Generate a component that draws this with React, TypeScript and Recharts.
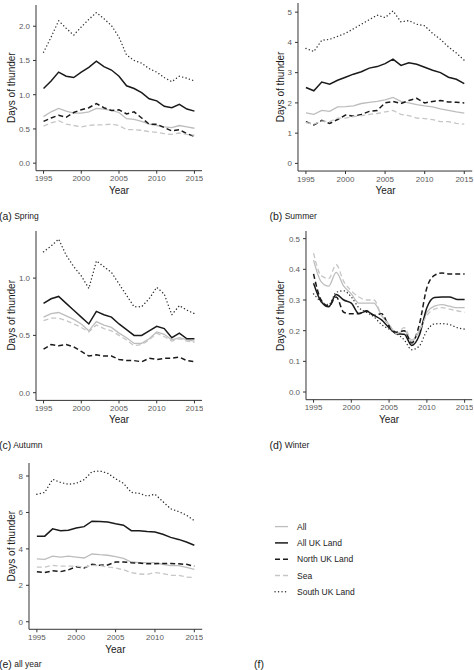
import React from 'react';
import { LineChart, Line, XAxis, YAxis } from 'recharts';

const YEARS = [1995, 1996, 1997, 1998, 1999, 2000, 2001, 2002, 2003, 2004, 2005, 2006, 2007, 2008, 2009, 2010, 2011, 2012, 2013, 2014, 2015];
const X_TICKS = [1995, 2000, 2005, 2010, 2015];

// Spring
const springAll = [0.68, 0.75, 0.80, 0.76, 0.73, 0.73, 0.75, 0.80, 0.79, 0.77, 0.74, 0.65, 0.64, 0.61, 0.57, 0.55, 0.53, 0.52, 0.55, 0.53, 0.51];
const springLand = [1.09, 1.20, 1.33, 1.27, 1.25, 1.33, 1.40, 1.49, 1.41, 1.36, 1.27, 1.13, 1.09, 1.03, 0.94, 0.91, 0.83, 0.81, 0.86, 0.79, 0.76];
const springNorth = [0.61, 0.66, 0.70, 0.67, 0.74, 0.78, 0.81, 0.87, 0.81, 0.77, 0.78, 0.72, 0.75, 0.66, 0.57, 0.57, 0.52, 0.47, 0.49, 0.43, 0.39];
const springSea = [0.54, 0.59, 0.62, 0.57, 0.55, 0.53, 0.55, 0.56, 0.56, 0.57, 0.55, 0.49, 0.49, 0.48, 0.46, 0.45, 0.43, 0.42, 0.44, 0.42, 0.41];
const springSouth = [1.62, 1.84, 2.08, 1.97, 1.87, 1.99, 2.10, 2.20, 2.11, 2.01, 1.84, 1.58, 1.50, 1.46, 1.38, 1.33, 1.25, 1.19, 1.27, 1.24, 1.20];

// Summer
const summerAll = [1.67, 1.62, 1.75, 1.72, 1.87, 1.88, 1.90, 1.98, 2.02, 2.05, 2.10, 2.18, 2.05, 2.00, 1.94, 1.90, 1.87, 1.80, 1.75, 1.70, 1.66];
const summerLand = [2.51, 2.40, 2.69, 2.62, 2.75, 2.85, 2.95, 3.03, 3.15, 3.20, 3.30, 3.45, 3.24, 3.33, 3.28, 3.18, 3.08, 3.00, 2.85, 2.78, 2.64];
const summerNorth = [1.38, 1.27, 1.42, 1.32, 1.45, 1.60, 1.56, 1.62, 1.72, 1.75, 2.00, 2.05, 1.98, 2.08, 2.15, 2.00, 2.05, 2.08, 2.03, 2.02, 2.00];
const summerSea = [1.35, 1.30, 1.40, 1.38, 1.50, 1.50, 1.55, 1.58, 1.62, 1.65, 1.70, 1.75, 1.62, 1.58, 1.50, 1.48, 1.45, 1.38, 1.38, 1.32, 1.30];
const summerSouth = [3.80, 3.70, 4.07, 4.10, 4.20, 4.30, 4.45, 4.60, 4.75, 4.90, 4.82, 5.04, 4.68, 4.72, 4.60, 4.55, 4.30, 4.10, 3.85, 3.65, 3.41];

// Autumn
const autumnAll = [0.66, 0.69, 0.70, 0.67, 0.64, 0.60, 0.54, 0.62, 0.59, 0.57, 0.52, 0.48, 0.43, 0.43, 0.47, 0.53, 0.51, 0.46, 0.48, 0.46, 0.45];
const autumnLand = [0.78, 0.82, 0.84, 0.78, 0.72, 0.66, 0.60, 0.71, 0.68, 0.66, 0.60, 0.55, 0.50, 0.50, 0.54, 0.58, 0.56, 0.48, 0.52, 0.47, 0.47];
const autumnNorth = [0.38, 0.42, 0.41, 0.42, 0.40, 0.36, 0.32, 0.33, 0.32, 0.32, 0.29, 0.28, 0.28, 0.27, 0.30, 0.29, 0.30, 0.30, 0.31, 0.28, 0.27];
const autumnSea = [0.63, 0.65, 0.65, 0.63, 0.60, 0.57, 0.53, 0.59, 0.56, 0.54, 0.50, 0.46, 0.41, 0.42, 0.46, 0.52, 0.49, 0.45, 0.47, 0.45, 0.44];
const autumnSouth = [1.23, 1.28, 1.34, 1.20, 1.10, 1.02, 0.91, 1.15, 1.10, 1.05, 0.95, 0.85, 0.75, 0.75, 0.82, 0.92, 0.86, 0.68, 0.76, 0.72, 0.69];

// Winter
const winterAll = [0.430, 0.360, 0.345, 0.390, 0.345, 0.320, 0.290, 0.290, 0.290, 0.250, 0.220, 0.190, 0.200, 0.165, 0.200, 0.260, 0.280, 0.285, 0.280, 0.275, 0.275];
const winterLand = [0.355, 0.295, 0.278, 0.318, 0.300, 0.290, 0.256, 0.263, 0.250, 0.235, 0.210, 0.190, 0.188, 0.152, 0.185, 0.275, 0.308, 0.310, 0.310, 0.302, 0.302];
const winterNorth = [0.385, 0.300, 0.280, 0.310, 0.260, 0.255, 0.255, 0.265, 0.250, 0.255, 0.215, 0.195, 0.200, 0.160, 0.220, 0.340, 0.380, 0.388, 0.385, 0.385, 0.385];
const winterSea = [0.453, 0.380, 0.370, 0.415, 0.360, 0.330, 0.310, 0.300, 0.300, 0.250, 0.220, 0.190, 0.210, 0.170, 0.200, 0.250, 0.270, 0.275, 0.270, 0.265, 0.260];
const winterSouth = [0.320, 0.295, 0.285, 0.325, 0.330, 0.310, 0.275, 0.260, 0.245, 0.220, 0.205, 0.190, 0.170, 0.138, 0.150, 0.200, 0.222, 0.223, 0.220, 0.210, 0.205];

// All year
const yearAll = [3.45, 3.42, 3.60, 3.55, 3.60, 3.55, 3.50, 3.72, 3.68, 3.65, 3.58, 3.48, 3.28, 3.25, 3.25, 3.25, 3.15, 3.08, 3.08, 2.98, 2.88];
const yearLand = [4.70, 4.70, 5.10, 5.00, 5.02, 5.15, 5.22, 5.52, 5.50, 5.47, 5.38, 5.30, 5.00, 5.00, 4.95, 4.93, 4.80, 4.63, 4.52, 4.38, 4.20];
const yearNorth = [2.75, 2.70, 2.80, 2.75, 2.85, 3.02, 2.95, 3.15, 3.10, 3.12, 3.28, 3.28, 3.24, 3.22, 3.18, 3.18, 3.20, 3.20, 3.18, 3.15, 3.05];
const yearSea = [3.00, 3.00, 3.10, 3.05, 3.05, 3.05, 3.00, 3.10, 3.08, 3.00, 2.95, 2.85, 2.70, 2.62, 2.60, 2.70, 2.65, 2.55, 2.55, 2.45, 2.42];
const yearSouth = [7.00, 7.10, 7.82, 7.65, 7.55, 7.60, 7.80, 8.24, 8.28, 8.15, 7.85, 7.60, 7.10, 7.05, 6.90, 7.00, 6.60, 6.20, 6.05, 5.85, 5.55];

const SERIES_NAMES = ['All', 'All UK Land', 'North UK Land', 'Sea', 'South UK Land'];

const SERIES = [
  { key: 'all', name: SERIES_NAMES[0], color: '#bdbdbd', width: 1.3, dash: undefined as string | undefined, cap: 'butt' },
  { key: 'land', name: SERIES_NAMES[1], color: '#1a1a1a', width: 1.5, dash: undefined as string | undefined, cap: 'butt' },
  { key: 'north', name: SERIES_NAMES[2], color: '#1a1a1a', width: 1.5, dash: '5 3', cap: 'butt' },
  { key: 'sea', name: SERIES_NAMES[3], color: '#c6c6c6', width: 1.3, dash: '5 3', cap: 'butt' },
  { key: 'south', name: SERIES_NAMES[4], color: '#333333', width: 1.4, dash: '0.1 3.4', cap: 'round' },
];

function table(all: number[], land: number[], north: number[], sea: number[], south: number[]) {
  return YEARS.map((year, i) => ({ year, all: all[i], land: land[i], north: north[i], sea: sea[i], south: south[i] }));
}

const FONT = '"Liberation Sans", Arial, Helvetica, sans-serif';

const PANELS = [
  { id: 'a', label: '(a)', title: 'Spring', data: table(springAll, springLand, springNorth, springSea, springSouth),
    left: 36, right: 202, top: 4.8, bottom: 170.5, domain: [-0.11, 2.31], ticks: [0, 0.5, 1, 1.5, 2], digits: 1,
    ytitleX: 11, yearY: 190, labelX: -1, labelY: 216, curve: 'linear' },
  { id: 'b', label: '(b)', title: 'Summer', data: table(summerAll, summerLand, summerNorth, summerSea, summerSouth),
    left: 298.4, right: 472.6, top: 2.85, bottom: 170.9, domain: [-0.2525, 5.3025], ticks: [0, 1, 2, 3, 4, 5], digits: 0,
    ytitleX: 280, yearY: 190, labelX: 269.5, labelY: 216, curve: 'linear' },
  { id: 'c', label: '(c)', title: 'Autumn', data: table(autumnAll, autumnLand, autumnNorth, autumnSea, autumnSouth),
    left: 36, right: 202, top: 230.6, bottom: 400, domain: [-0.0672, 1.4112], ticks: [0, 0.5, 1], digits: 1,
    ytitleX: 11, yearY: 419, labelX: -1, labelY: 445, curve: 'linear' },
  { id: 'd', label: '(d)', title: 'Winter', data: table(winterAll, winterLand, winterNorth, winterSea, winterSouth),
    left: 306, right: 472.2, top: 231.3, bottom: 400, domain: [-0.025, 0.525], ticks: [0, 0.1, 0.2, 0.3, 0.4, 0.5], digits: 1,
    ytitleX: 280, yearY: 419, labelX: 269.5, labelY: 445, curve: 'monotone' },
  { id: 'e', label: '(e)', title: 'all year', data: table(yearAll, yearLand, yearNorth, yearSea, yearSouth),
    left: 28.8, right: 202, top: 463, bottom: 629.3, domain: [-0.415, 8.715], ticks: [0, 2, 4, 6, 8], digits: 0,
    ytitleX: 11, yearY: 649, labelX: -1, labelY: 664, curve: 'linear' },
];

const YW = 30;
const MT = 3;
const MR = 1;
const XH = 22;

function Panel({ p }: { p: any }) {
  const plotW = p.right - p.left;
  const plotH = p.bottom - p.top;
  return (
    <div style={{ position: 'absolute', left: p.left - YW, top: p.top - MT }}>
      <LineChart
        width={YW + plotW + MR}
        height={MT + plotH + XH}
        data={p.data}
        margin={{ top: MT, right: MR, bottom: 0, left: 0 }}
      >
        <XAxis
          dataKey="year"
          type="number"
          domain={[1994, 2016]}
          ticks={X_TICKS}
          interval={0}
          allowDataOverflow
          height={XH}
          stroke="#333333"
          tickSize={3}
          tickMargin={2}
          tick={{ fontSize: 8, fill: '#5a5a5a', fontFamily: FONT }}
        />
        <YAxis
          type="number"
          domain={p.domain}
          ticks={p.ticks}
          interval={0}
          allowDataOverflow
          width={YW}
          stroke="#333333"
          tickSize={3}
          tickMargin={3}
          tickFormatter={(v: number) => v.toFixed(p.digits)}
          tick={{ fontSize: 8, fill: '#5a5a5a', fontFamily: FONT }}
        />
        {SERIES.map((s) => (
          <Line
            key={s.key}
            dataKey={s.key}
            name={s.name}
            type={p.curve}
            stroke={s.color}
            strokeWidth={s.width}
            strokeDasharray={s.dash}
            strokeLinecap={s.cap as any}
            dot={false}
            activeDot={false}
            isAnimationActive={false}
          />
        ))}
      </LineChart>
    </div>
  );
}

export default function App() {
  const legendTop = 526.6;
  const legendStep = 16.3;
  return (
    <div style={{ position: 'absolute', left: 0, top: 0, width: 474, height: 670, overflow: 'hidden', background: '#fff', fontFamily: FONT }}>
      {PANELS.map((p) => (
        <Panel key={p.id} p={p} />
      ))}
      <svg width={474} height={670} style={{ position: 'absolute', left: 0, top: 0, pointerEvents: 'none' }} fontFamily={FONT}>
        {PANELS.map((p) => (
          <g key={p.id}>
            <text
              transform={`translate(${p.ytitleX},${(p.top + p.bottom) / 2}) rotate(-90)`}
              textAnchor="middle"
              dominantBaseline="central"
              fontSize={10}
              fill="#1a1a1a"
            >
              Days of thunder
            </text>
            <text x={(p.left + p.right) / 2} y={p.yearY} textAnchor="middle" dominantBaseline="central" fontSize={10} fill="#1a1a1a">
              Year
            </text>
            <text x={p.labelX} y={p.labelY} dominantBaseline="central" fill="#1a1a1a">
              <tspan fontSize={10.5}>{p.label}</tspan>
              <tspan fontSize={8.5}>{' ' + p.title}</tspan>
            </text>
          </g>
        ))}
        <text x={254} y={664} dominantBaseline="central" fontSize={10.5} fill="#1a1a1a">(f)</text>
        {SERIES.map((s, i) => {
          const y = legendTop + i * legendStep;
          return (
            <g key={s.key}>
              <line x1={275} x2={288} y1={y} y2={y} stroke={s.color} strokeWidth={s.width} strokeDasharray={s.dash} strokeLinecap={s.cap as any} />
              <text x={297} y={y} dominantBaseline="central" fontSize={8.5} fill="#222">
                {s.name}
              </text>
            </g>
          );
        })}
      </svg>
    </div>
  );
}
